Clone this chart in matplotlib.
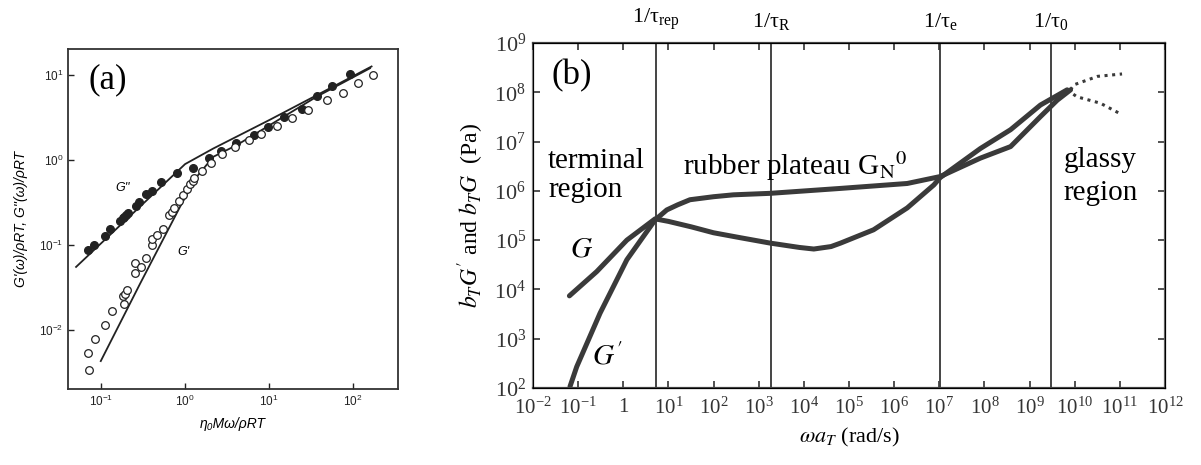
import matplotlib
matplotlib.use('Agg')
import matplotlib.pyplot as plt
from matplotlib.ticker import NullLocator, NullFormatter

plt.rcParams['mathtext.fontset'] = 'stix'

# ---- panel (a): reduced moduli vs reduced frequency ----
a_gpp_x = [0.071, 0.084, 0.113, 0.130, 0.170, 0.183, 0.191, 0.200, 0.213, 0.261, 0.289,
           0.346, 0.405, 0.527, 0.818, 1.245, 1.93, 2.68, 4.05, 6.69, 9.9, 15.1, 24.7,
           37.9, 56.7, 92.9]
a_gpp_y = [0.0865, 0.100, 0.129, 0.152, 0.192, 0.205, 0.214, 0.224, 0.241, 0.286, 0.319,
           0.393, 0.434, 0.555, 0.708, 0.811, 1.066, 1.277, 1.574, 1.97, 2.48, 3.19, 4.04,
           5.75, 7.55, 10.4]
a_gp_x = [0.0726, 0.0713, 0.0857, 0.113, 0.135, 0.190, 0.183, 0.193, 0.206, 0.254, 0.256,
          0.299, 0.343, 0.409, 0.412, 0.464, 0.547, 0.657, 0.707, 0.739, 0.864, 0.964,
          1.06, 1.157, 1.245, 1.29, 1.59, 2.06, 2.76, 3.97, 5.89, 8.11, 12.5, 19.1, 29.7,
          49.0, 77.4, 117, 176]
a_gp_y = [0.00331, 0.0053, 0.00776, 0.01125, 0.0166, 0.0199, 0.025, 0.0266, 0.0297, 0.0467,
          0.0618, 0.055, 0.0709, 0.099, 0.119, 0.132, 0.156, 0.224, 0.245, 0.269, 0.328,
          0.386, 0.451, 0.516, 0.565, 0.607, 0.748, 0.914, 1.167, 1.436, 1.72, 2.01, 2.52,
          3.10, 3.90, 5.11, 6.24, 8.05, 10.1]
a_gpp_fit_x = [0.0508, 1.01, 2.19, 10.4, 168]
a_gpp_fit_y = [0.055, 0.897, 1.37, 3.0, 12.7]
a_gp_fit_x = [0.1, 0.294, 0.879, 1.39, 2.19, 4.16, 37.3, 161]
a_gp_fit_y = [0.00427, 0.0349, 0.281, 0.636, 1.094, 1.50, 5.59, 12.1]

# ---- panel (b): master curve ----
b_gp_x = [0.066, 0.093, 0.306, 1.2, 5.07, 9.2, 16, 30, 100, 275, 1.8e3, 6.5e4, 1.95e6,
          1.05e7, 8.1e7, 3.8e8, 1.74e9, 4.1e9, 8.1e9]
b_gp_y = [107, 270, 3.3e3, 4.0e4, 2.57e5, 4.1e5, 5.2e5, 6.6e5, 7.6e5, 8.3e5, 8.9e5, 1.12e6,
          1.41e6, 1.95e6, 4.6e6, 7.9e6, 3.2e7, 6.9e7, 1.12e8]
b_gp_tail_x = [8.1e9, 9.5e9, 3.2e10, 1.12e11]
b_gp_tail_y = [1.12e8, 1.41e8, 2.1e8, 2.35e8]
b_gpp_x = [0.064, 0.258, 1.2, 5.07, 10, 32, 100, 390, 1.8e3, 8e3, 1.66e4, 4e4, 6.5e4,
           3.5e5, 1.95e6, 7.6e6, 1.05e7, 8.1e7, 3.8e8, 1.74e9, 6.8e9]
b_gpp_y = [7.4e3, 2.3e4, 1.0e5, 2.7e5, 2.4e5, 1.86e5, 1.41e5, 1.12e5, 8.7e4, 7.1e4, 6.6e4,
           7.4e4, 8.7e4, 1.62e5, 4.5e5, 1.32e6, 1.86e6, 7.2e6, 1.74e7, 5.5e7, 1.12e8]
b_gpp_tail_x = [6.8e9, 1.12e10, 3.7e10, 1.12e11]
b_gpp_tail_y = [1.12e8, 8.1e7, 6.0e7, 3.5e7]

tau_pos = [5.3, 1.9e3, 1.05e7, 3.0e9]
tau_labels = [r'1/$\mathregular{\tau_{rep}}$', r'1/$\mathregular{\tau_R}$',
              r'1/$\mathregular{\tau_e}$', r'1/$\mathregular{\tau_0}$']
b_xticks = [10.0 ** k for k in range(-2, 13)]
b_xlabels = ['1' if k == 0 else r'$\mathdefault{10^{%d}}$' % k for k in range(-2, 13)]
b_yticks = [10.0 ** k for k in range(2, 10)]
b_ylabels = [r'$\mathdefault{10^{%d}}$' % k for k in range(2, 10)]

sans = ['Liberation Sans', 'DejaVu Sans']
serif = ['Liberation Serif', 'DejaVu Serif']

fig = plt.figure(figsize=(12.01, 4.65), dpi=100)
axa = fig.add_axes([0.0566, 0.1634, 0.2748, 0.7312])
axb = fig.add_axes([0.4438, 0.1656, 0.5262, 0.742])

# panel (a)
ink = '#222222'
axa.plot(a_gpp_fit_x, a_gpp_fit_y, color=ink, lw=1.3)
axa.plot(a_gp_fit_x, a_gp_fit_y, color=ink, lw=1.3)
axa.plot(a_gpp_x, a_gpp_y, 'o', ms=5.5, color=ink)
axa.plot(a_gp_x, a_gp_y, 'o', ms=5.5, mfc='white', mec=ink, mew=0.9)
axa.set_xscale('log')
axa.set_yscale('log')
axa.set_xlim(0.0407, 347)
axa.set_ylim(0.002, 20.4)
axa.set_xticks([0.1, 1, 10, 100])
axa.set_yticks([0.01, 0.1, 1, 10])
axa.xaxis.set_minor_locator(NullLocator())
axa.yaxis.set_minor_locator(NullLocator())
axa.tick_params(direction='in', length=4, labelsize=8.5, colors=ink, width=1)
for lab in axa.get_xticklabels() + axa.get_yticklabels():
    lab.set_family(sans)
for s in axa.spines.values():
    s.set_color('#333333')
    s.set_linewidth(1.3)
axa.set_xlabel('η₀Mω/ρRT', family=sans, style='italic', fontsize=10, labelpad=6)
axa.set_ylabel("G'(ω)/ρRT, G''(ω)/ρRT", family=sans, style='italic', fontsize=10,
               labelpad=8)
axa.text(0.122, 8.8, '(a)', family=serif, fontsize=25, ha='center', va='center')
axa.text(0.18, 0.47, "G''", family=sans, style='italic', fontsize=9, ha='center',
         va='center')
axa.text(0.955, 0.082, "G'", family=sans, style='italic', fontsize=9, ha='center',
         va='center')

# panel (b)
curve = '#3a3a3a'
for xv in tau_pos:
    axb.axvline(xv, color='#444444', lw=1.4)
axb.plot(b_gp_x, b_gp_y, color=curve, lw=3.6, solid_capstyle='round')
axb.plot(b_gpp_x, b_gpp_y, color=curve, lw=3.6, solid_capstyle='round')
axb.plot(b_gp_tail_x, b_gp_tail_y, color=curve, lw=2.2, ls=(0, (1, 1.5)))
axb.plot(b_gpp_tail_x, b_gpp_tail_y, color=curve, lw=2.2, ls=(0, (1, 1.5)))
axb.set_xscale('log')
axb.set_yscale('log')
axb.set_xlim(1e-2, 1e12)
axb.set_ylim(1e2, 1e9)
axb.set_xticks(b_xticks, b_xlabels)
axb.set_yticks(b_yticks, b_ylabels)
axb.xaxis.set_minor_locator(NullLocator())
axb.yaxis.set_minor_locator(NullLocator())
axb.tick_params(direction='in', length=5, width=1.2, labelsize=15, right=True,
                colors='#333333')
axb.tick_params(axis='x', pad=7)
axb.tick_params(axis='y', pad=5, labelsize=16)
for lab in axb.get_xticklabels() + axb.get_yticklabels():
    lab.set_family(serif)
for s in axb.spines.values():
    s.set_color('#444444')
    s.set_linewidth(1.6)
axb.spines['left'].set_color('#888888')
axb.spines['right'].set_color('#666666')

axt = axb.twiny()
axt.set_xscale('log')
axt.set_xlim(axb.get_xlim())
axt.set_xticks(tau_pos, tau_labels)
axt.set_xticks(b_xticks, minor=True)
axt.xaxis.set_minor_formatter(NullFormatter())
axt.tick_params(which='major', length=0, pad=8, labelsize=16)
axt.tick_params(which='minor', direction='in', length=5, width=1.2, colors='#333333')
for lab in axt.get_xticklabels():
    lab.set_family(serif)

axb.set_xlabel(r'$\omega a_T$ (rad/s)', family=serif, fontsize=16, labelpad=5)
axb.set_ylabel(r"$b_TG'$ and $b_TG$  (Pa)", family=serif, fontsize=17, labelpad=6)

axb.text(0.073, 2.2e8, '(b)', family=serif, fontsize=25, ha='center', va='center')
axb.text(0.0215, 2.9e6, 'terminal', family=serif, fontsize=21, va='baseline')
axb.text(0.0215, 7.6e5, 'region', family=serif, fontsize=21, va='baseline')
axb.text(21, 2.1e6, r'rubber plateau G$_\mathrm{N}$$^\mathrm{0}$', family=serif,
         fontsize=21, va='baseline')
axb.text(5.6e9, 3.0e6, 'glassy', family=serif, fontsize=21, va='baseline')
axb.text(5.6e9, 6.6e5, 'region', family=serif, fontsize=21, va='baseline')
axb.text(0.12, 6.9e4, r'$G$', fontsize=21, ha='center', va='center')
axb.text(0.43, 4.4e2, r"$G'$", fontsize=21, ha='center', va='center')

fig.savefig('out.png', dpi=100)
